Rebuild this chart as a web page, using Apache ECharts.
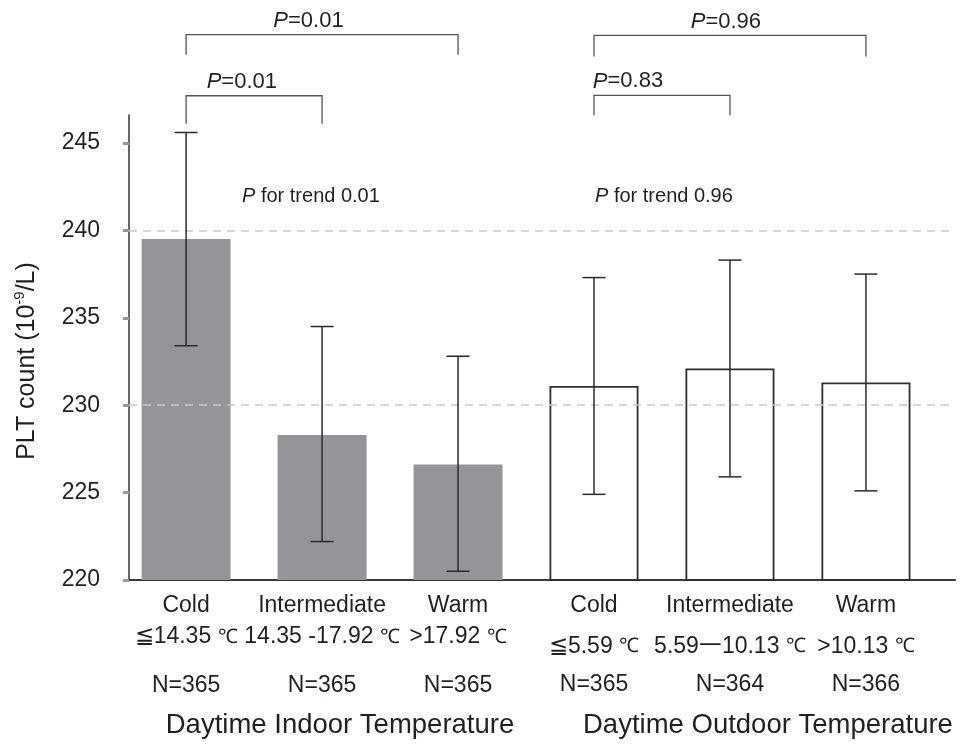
<!DOCTYPE html>
<html>
<head>
<meta charset="utf-8">
<script src="https://cdn.jsdelivr.net/npm/echarts@6/dist/echarts.min.js"></script>
<style>html,body{margin:0;padding:0;background:#fff}#c{width:960px;height:744px}</style>
</head>
<body>
<div id="c"></div>
<script>
// ---- data ----
const categories = ['Cold', 'Intermediate', 'Warm', 'Cold', 'Intermediate', 'Warm'];
const ranges = ['≦14.35 ℃', '14.35 -17.92 ℃', '>17.92 ℃', '≦5.59 ℃', '5.59一10.13 ℃', '>10.13 ℃'];
const nCounts = [365, 365, 365, 365, 364, 366];
const means = [239.5, 228.3, 226.6, 231.1, 232.1, 231.3];
const lowerCI = [233.4, 222.2, 220.5, 224.9, 225.9, 225.1];
const upperCI = [245.6, 234.5, 232.8, 237.3, 238.3, 237.5];
const yTicks = [220, 225, 230, 235, 240, 245];
const refLines = [240, 230];
const groupTitles = ['Daytime Indoor Temperature', 'Daytime Outdoor Temperature'];
const trendP = ['0.01', '0.96'];
const bracketFrom = [0, 0, 3, 3];
const bracketTo = [2, 1, 5, 4];
const bracketP = ['0.01', '0.01', '0.96', '0.83'];

// ---- layout / style ----
const FONT = '"Liberation Sans", Arial, Helvetica, sans-serif';
const TXT = '#231f20';
const bracketLine = [251.2, 247.7, 251.15, 247.72];
const bracketLegL = [250.05, 246.1, 249.95, 246.58];
const bracketLegR = [250.05, 246.1, 249.95, 246.58];
const bracketLabelX = [0.9, 0.41, 3.97, 3.25];

const chart = echarts.init(document.getElementById('c'), null, {renderer: 'canvas'});

const barData = means.map((v, i) => ({
  value: [i, v],
  itemStyle: i < 3
    ? {color: '#939598', borderWidth: 0}
    : {color: '#ffffff', borderColor: '#2f2f2f', borderWidth: 1.8}
}));

const errData = means.map((v, i) => [i, lowerCI[i], upperCI[i]]);
const bracketData = bracketFrom.map((f, i) => [bracketLabelX[i], bracketLine[i]]);

function rangeRich(s, g) {
  return s.split('℃').map(p => p ? '{' + g + '2|' + p + '}' : '').join('{' + g + 'c|℃}');
}

const base = {fontSize: 23, fontFamily: FONT, color: TXT};
const option = {
  animation: false,
  backgroundColor: '#fff',
  grid: {left: 129, right: 5, top: 115, bottom: 164, containLabel: false},
  xAxis: {
    type: 'value',
    min: -0.42, max: 5.655,
    axisLine: {show: true, onZero: false, lineStyle: {color: '#3a3a3a', width: 2}},
    axisTick: {show: false},
    splitLine: {show: false},
    axisLabel: {
      customValues: [0, 1, 2, 3, 4, 5],
      margin: 13,
      fontSize: 23,
      fontFamily: FONT,
      color: TXT,
      formatter: function (v) {
        const i = Math.round(v);
        const g = i < 3 ? 'l' : 'r';
        return '{' + g + '1|' + categories[i] + '}\n' + rangeRich(ranges[i], g) + '\n{' + g + '3|N=' + nCounts[i] + '}';
      },
      rich: {
        l1: Object.assign({}, base, {lineHeight: 26}),
        l2: Object.assign({}, base, {lineHeight: 36}),
        lc: Object.assign({}, base, {fontSize: 20, lineHeight: 36}),
        l3: Object.assign({}, base, {lineHeight: 62}),
        r1: Object.assign({}, base, {lineHeight: 26}),
        r2: Object.assign({}, base, {lineHeight: 55}),
        rc: Object.assign({}, base, {fontSize: 20, lineHeight: 55}),
        r3: Object.assign({}, base, {lineHeight: 22})
      }
    }
  },
  yAxis: {
    type: 'value',
    min: 220, max: 246.6,
    axisLine: {show: true, onZero: false, lineStyle: {color: '#333', width: 1.5}},
    axisTick: {show: true, customValues: yTicks, length: 6, lineStyle: {color: '#999', width: 3}},
    splitLine: {show: false},
    axisLabel: {customValues: yTicks, margin: 29, fontSize: 23, fontFamily: FONT, color: TXT}
  },
  series: [
    {
      type: 'bar',
      barWidth: 89,
      data: barData,
      z: 2,
      markLine: {
        silent: true,
        symbol: 'none',
        label: {show: false},
        lineStyle: {color: '#c8c8c8', type: [8, 6], width: 1.5},
        data: refLines.map(v => ({yAxis: v}))
      }
    },
    {
      type: 'custom',
      z: 5,
      clip: false,
      data: errData,
      renderItem: function (params, api) {
        const x = api.value(0);
        const lo = api.coord([x, api.value(1)]);
        const hi = api.coord([x, api.value(2)]);
        const w = 11.5;
        const st = {stroke: '#2b2b2b', lineWidth: 1.5};
        return {type: 'group', children: [
          {type: 'line', shape: {x1: lo[0], y1: lo[1], x2: hi[0], y2: hi[1]}, style: st},
          {type: 'line', shape: {x1: lo[0] - w, y1: lo[1], x2: lo[0] + w, y2: lo[1]}, style: st},
          {type: 'line', shape: {x1: hi[0] - w, y1: hi[1], x2: hi[0] + w, y2: hi[1]}, style: st}
        ]};
      }
    },
    {
      type: 'custom',
      z: 5,
      clip: false,
      data: bracketData,
      renderItem: function (params, api) {
        const i = params.dataIndex;
        const a = api.coord([bracketFrom[i], bracketLine[i]]);
        const b = api.coord([bracketTo[i], bracketLine[i]]);
        const la = api.coord([bracketFrom[i], bracketLegL[i]]);
        const lb = api.coord([bracketTo[i], bracketLegR[i]]);
        const t = api.coord([bracketLabelX[i], bracketLine[i]]);
        return {type: 'group', children: [
          {type: 'polyline', shape: {points: [[a[0], la[1]], [a[0], a[1]], [b[0], b[1]], [b[0], lb[1]]]},
           style: {stroke: '#555', lineWidth: 1.3, fill: null}},
          {type: 'text', x: t[0], y: t[1] - 14,
           style: {
             text: '{i|P}{n|=' + bracketP[i] + '}',
             align: 'center', verticalAlign: 'middle',
             rich: {
               i: {fontSize: 22, fontStyle: 'italic', fontFamily: FONT, fill: TXT},
               n: {fontSize: 22, fontFamily: FONT, fill: TXT}
             }
           }}
        ]};
      }
    }
  ],
  graphic: [
    {type: 'text', x: 27, y: 361, rotation: Math.PI / 2,
     style: {
       text: '{a|PLT count (10}{s|-9}{a|/L)}',
       align: 'center', verticalAlign: 'middle',
       rich: {
         a: {fontSize: 25, fontFamily: FONT, fill: TXT, lineHeight: 30},
         s: {fontSize: 15, fontFamily: FONT, fill: TXT, lineHeight: 20, verticalAlign: 'top'}
       }
     }},
    {type: 'text', x: 340, y: 725,
     style: {text: groupTitles[0], fontSize: 27.5, fontFamily: FONT, fill: TXT, align: 'center', verticalAlign: 'middle'}},
    {type: 'text', x: 583, y: 725,
     style: {text: groupTitles[1], fontSize: 27.5, fontFamily: FONT, fill: TXT, align: 'left', verticalAlign: 'middle'}},
    {type: 'text', x: 242, y: 196,
     style: {text: '{i|P}{n| for trend ' + trendP[0] + '}', align: 'left', verticalAlign: 'middle',
       rich: {i: {fontSize: 20, fontStyle: 'italic', fontFamily: FONT, fill: TXT}, n: {fontSize: 20, fontFamily: FONT, fill: TXT}}}},
    {type: 'text', x: 595, y: 196,
     style: {text: '{i|P}{n| for trend ' + trendP[1] + '}', align: 'left', verticalAlign: 'middle',
       rich: {i: {fontSize: 20, fontStyle: 'italic', fontFamily: FONT, fill: TXT}, n: {fontSize: 20, fontFamily: FONT, fill: TXT}}}}
  ]
};
chart.setOption(option);
</script>
</body>
</html>
